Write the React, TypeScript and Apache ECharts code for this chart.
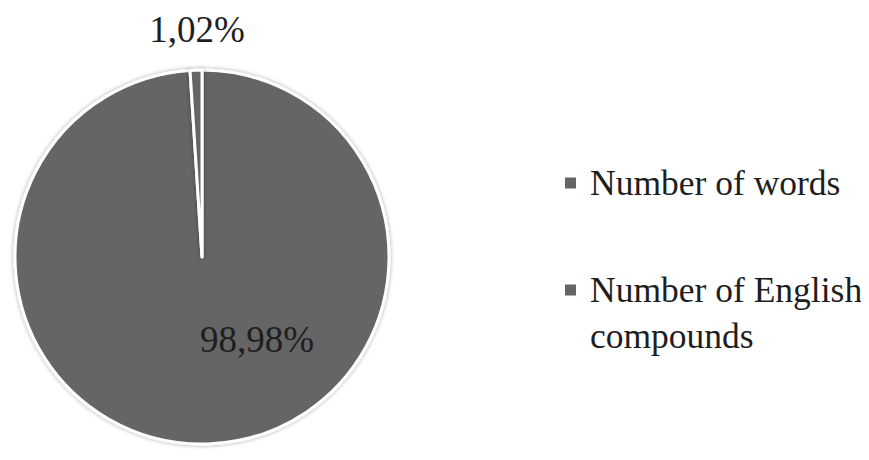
import React, { useEffect, useRef } from "react";
import * as echarts from "echarts";

const categories = ["Number of words", "Number of English compounds"];
const values = [98.98, 1.02];
const valueLabels = ["98,98%", "1,02%"];
const legendLines = [["Number of words"], ["Number of English", "compounds"]];

const FONT = "'Liberation Serif', 'Times New Roman', serif";
const GRAY = "#656565";
const TEXT = "#1e1e1e";

const legendText = (lines: string[], leadingBlank: boolean) =>
  (leadingBlank ? "\n" : "") + lines.map((l) => "{g|}{t|" + l + "}").join("\n");

const legendTextStyle = {
  fontFamily: FONT,
  fontSize: 35.5,
  color: TEXT,
  lineHeight: 46,
  rich: {
    g: { width: 8, lineHeight: 46 },
    t: { fontFamily: FONT, fontSize: 35.5, color: TEXT, lineHeight: 46 },
  },
};

export default function App() {
  const ref = useRef<HTMLDivElement>(null);
  useEffect(() => {
    if (!ref.current) return;
    const chart = echarts.init(ref.current, undefined, { renderer: "svg" });
    chart.setOption({
      animation: false,
      backgroundColor: "#ffffff",
      legend: [
        {
          data: [categories[0]],
          orient: "vertical",
          left: 555,
          top: 152,
          padding: 0,
          itemWidth: 13,
          itemHeight: 13,
          icon: "rect",
          formatter: () => legendText(legendLines[0], false),
          textStyle: legendTextStyle,
        },
        {
          data: [categories[1]],
          orient: "vertical",
          left: 555,
          top: 213,
          padding: 0,
          itemWidth: 13,
          itemHeight: 13,
          icon: "rect",
          formatter: () => legendText(legendLines[1], true),
          textStyle: legendTextStyle,
        },
      ],
      series: [
        {
          type: "pie",
          center: [194, 249],
          radius: 187,
          startAngle: 90,
          clockwise: true,
          color: [GRAY, GRAY],
          itemStyle: {
            borderColor: "#ffffff",
            borderWidth: 3,
            shadowBlur: 4,
            shadowColor: "rgba(0,0,0,0.35)",
          },
          label: {
            show: true,
            position: "inside",
            fontFamily: FONT,
            fontSize: 37,
            color: TEXT,
            formatter: (p: any) => valueLabels[p.dataIndex],
          },
          labelLine: { show: false },
          labelLayout: (p: any) =>
            p.dataIndex === 0 ? { dx: 52, dy: -14 } : { dx: -2, dy: -131 },
          emphasis: { disabled: true },
          data: categories.map((c, i) => ({ name: c, value: values[i] })),
        },
      ],
    });
    return () => chart.dispose();
  }, []);
  return <div ref={ref} style={{ width: 861, height: 452 }} />;
}
